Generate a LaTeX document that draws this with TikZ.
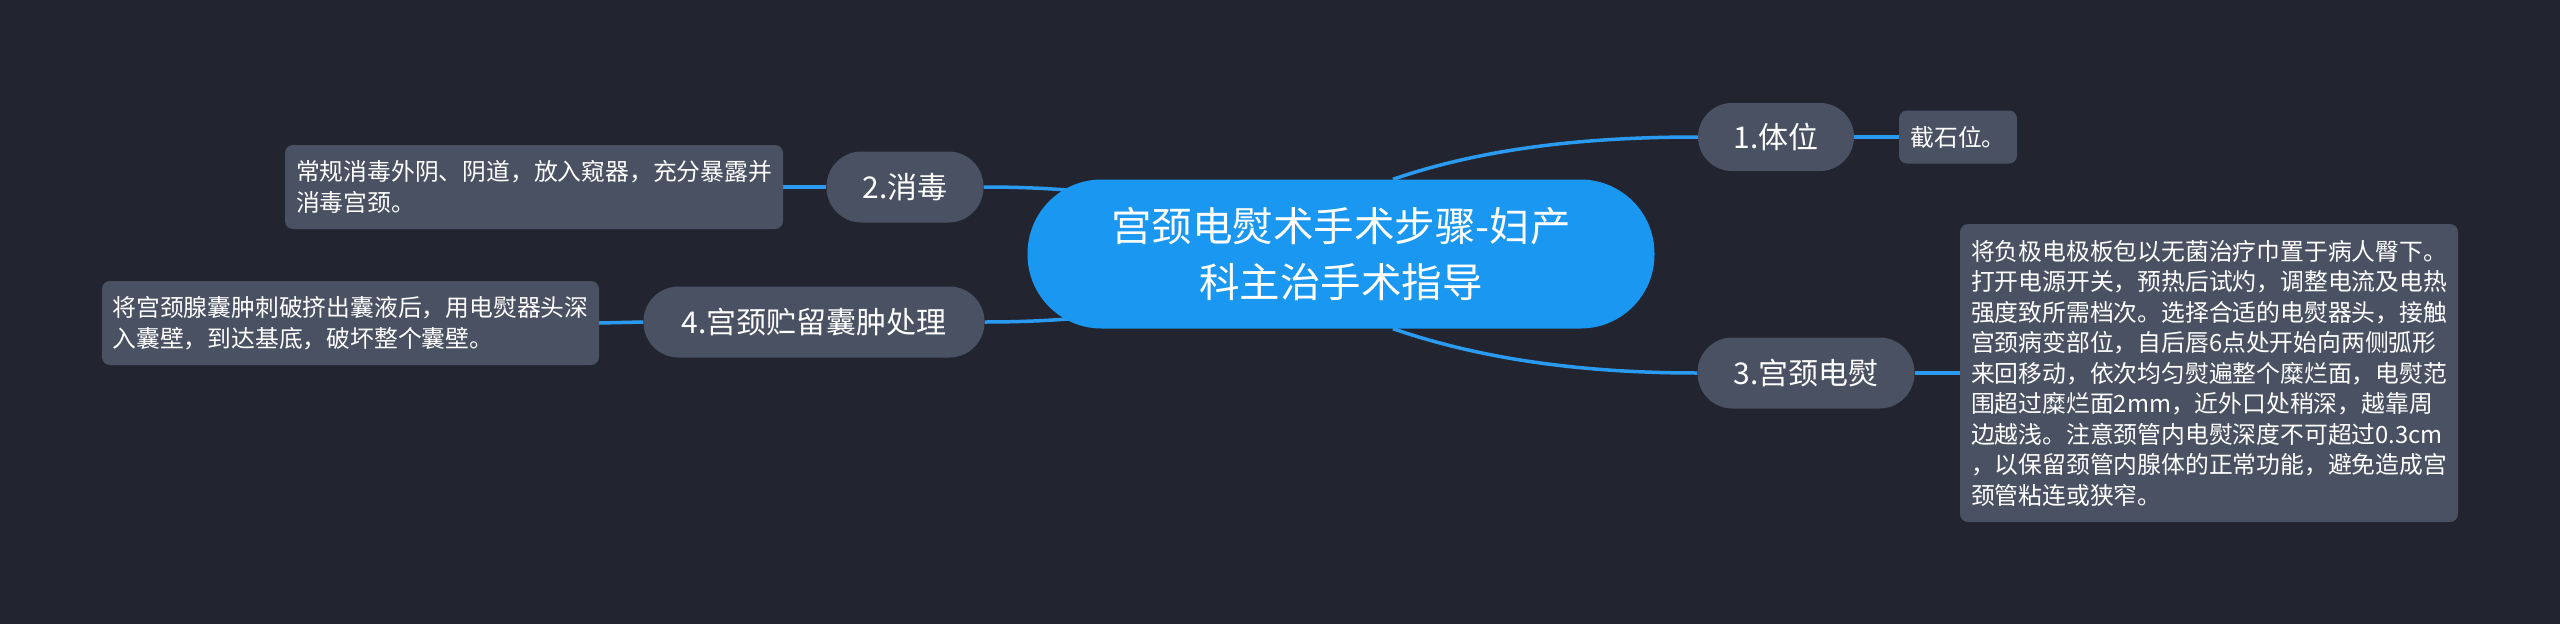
\documentclass[tikz,border=0pt]{standalone}
\usepackage{fontspec}
\setmainfont{Noto Sans CJK SC}
\usetikzlibrary{backgrounds}
\definecolor{bgc}{HTML}{22252F}
\definecolor{nodec}{HTML}{4A5162}
\definecolor{mainc}{HTML}{1A97F0}
\definecolor{linec}{HTML}{2A9BF0}
\begin{document}
\begin{tikzpicture}[x=1pt,y=-1pt,
  branch/.style={fill=nodec, text=white, inner sep=0pt, font=\fontsize{30}{36}\selectfont, minimum height=71pt, rounded corners=35pt},
  detail/.style={fill=nodec, text=white, inner sep=0pt, align=left, font=\fontsize{23.8}{30.5}\selectfont, rounded corners=8pt},
  link/.style={draw=linec, line width=3.5pt}
]
\useasboundingbox (0,0) rectangle (2560,624);
% central
\node[fill=mainc, text=white, align=center, font=\fontsize{40.5}{56}\selectfont,
  minimum width=627pt, minimum height=149pt, rounded corners=74pt, inner sep=0pt]
  (c) at (1341,254) {宫颈电熨术手术步骤-妇产\\科主治手术指导};
% branches
\node[branch, minimum width=156pt, minimum height=68pt, rounded corners=34pt] (n1) at (1776,137) {1.体位};
\node[branch, minimum width=157pt] (n2) at (905,187) {2.消毒};
\node[branch, minimum width=217pt] (n3) at (1806,373) {3.宫颈电熨};
\node[branch, minimum width=341pt] (n4) at (814,322) {4.宫颈贮留囊肿处理};
% details
\node[detail, minimum width=118pt, minimum height=53pt] (d1) at (1958,137) {截石位。};
\node[detail, minimum width=498pt, minimum height=84pt] (d2) at (534,187)
  {常规消毒外阴、阴道，放入窥器，充分暴露并\\消毒宫颈。};
\node[detail, minimum width=498pt, minimum height=298pt] (d3) at (2209,373)
  {将负极电极板包以无菌治疗巾置于病人臀下。\\打开电源开关，预热后试灼，调整电流及电热\\强度致所需档次。选择合适的电熨器头，接触\\宫颈病变部位，自后唇6点处开始向两侧弧形\\来回移动，依次均匀熨遍整个糜烂面，电熨范\\围超过糜烂面2mm，近外口处稍深，越靠周\\边越浅。注意颈管内电熨深度不可超过0.3cm\\，以保留颈管内腺体的正常功能，避免造成宫\\颈管粘连或狭窄。};
\node[detail, minimum width=497pt, minimum height=84pt] (d4) at (350.5,323)
  {将宫颈腺囊肿刺破挤出囊液后，用电熨器头深\\入囊壁，到达基底，破坏整个囊壁。};
\begin{scope}[on background layer]
\fill[bgc] (0,0) rectangle (2560,624);
\draw[link] ([xshift=52pt]c.north) .. controls +(87,-30) and +(-117,0) .. (n1.west);
\draw[link] ([xshift=52pt]c.south) .. controls +(87,30) and +(-117,0) .. (n3.west);
\draw[link] (n2.east) .. controls +(240,0) and +(-60,0) .. (c.center);
\draw[link] (n4.east) .. controls +(240,0) and +(-60,0) .. (c.center);
\draw[link] (n1.east) -- (d1.west);
\draw[link] (n3.east) -- (d3.west);
\draw[link] (d2.east) -- (n2.west);
\draw[link] (d4.east) -- (n4.west);
\end{scope}
\end{tikzpicture}
\end{document}
